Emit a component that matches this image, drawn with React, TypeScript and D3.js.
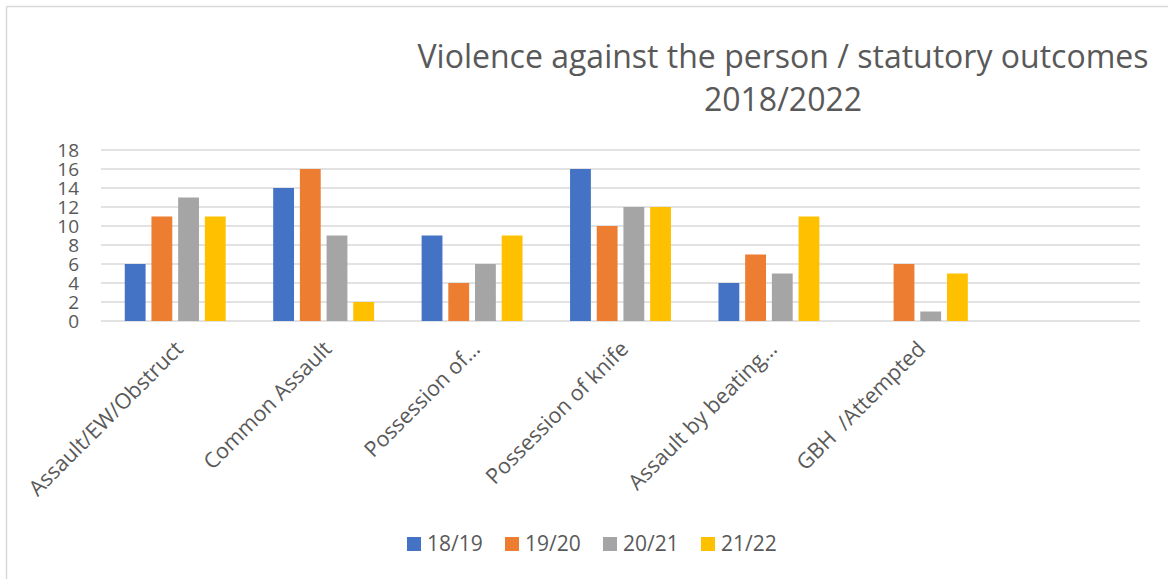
import React from "react";
import * as d3 from "d3";

const categories = [
  "Assault/EW/Obstruct",
  "Common Assault",
  "Possession of…",
  "Possession of knife",
  "Assault by beating…",
  "GBH  /Attempted",
  "",
];
const seriesNames = ["18/19", "19/20", "20/21", "21/22"];
const s1819 = [6, 14, 9, 16, 4, 0, 0];
const s1920 = [11, 16, 4, 10, 7, 6, 0];
const s2021 = [13, 9, 6, 12, 5, 1, 0];
const s2122 = [11, 2, 9, 12, 11, 5, 0];
const yTicks = [0, 2, 4, 6, 8, 10, 12, 14, 16, 18];
const titleLines = ["Violence against the person / statutory outcomes", "2018/2022"];

const seriesValues = [s1819, s1920, s2021, s2122];
const colors = ["#4472C4", "#ED7D31", "#A5A5A5", "#FFC000"];

const W = 1168;
const H = 579;
const plotLeft = 101;
const plotRight = 1140;
const plotTop = 150;
const plotBottom = 321;
const textColor = "#595959";
const gridColor = "#d9d9d9";
const font = "'Open Sans', 'Noto Sans', sans-serif";

export default function App() {
  const x0 = d3.scaleBand<string>().domain(categories.map((_, i) => String(i))).range([plotLeft, plotRight]).paddingInner(0).paddingOuter(0);
  const x1 = d3.scaleBand<string>().domain(seriesNames).range([0, x0.bandwidth()]).paddingInner(0.22).paddingOuter(0.89);
  const y = d3.scaleLinear().domain([0, 18]).range([plotBottom, plotTop]);

  return (
    <svg width={W} height={H} style={{ position: "absolute", left: 0, top: 0, background: "#fff" }} fontFamily={font}>
      <rect x={0} y={0} width={W} height={H} fill="#fff" />
      {/* frame */}
      <line x1={6.5} y1={6.5} x2={W} y2={6.5} stroke={gridColor} strokeWidth={1.5} />
      <line x1={6.5} y1={6.5} x2={6.5} y2={H} stroke={gridColor} strokeWidth={1.5} />
      {/* title */}
      <text x={783} y={68} textAnchor="middle" fontSize={32} fill={textColor}>{titleLines[0]}</text>
      <text x={783} y={111} textAnchor="middle" fontSize={32} fill={textColor}>{titleLines[1]}</text>
      {/* gridlines */}
      {yTicks.map((t) => (
        <line key={t} x1={plotLeft} x2={plotRight} y1={y(t)} y2={y(t)} stroke={gridColor} strokeWidth={1.5} />
      ))}
      {/* y tick labels */}
      {yTicks.map((t) => (
        <text key={"l" + t} x={79} y={y(t)} dy="0.36em" textAnchor="end" fontSize={19} fill={textColor}>{t}</text>
      ))}
      {/* bars */}
      {categories.map((c, ci) => (
        <g key={ci} transform={`translate(${x0(String(ci))},0)`}>
          {seriesNames.map((s, si) => {
            const v = seriesValues[si][ci];
            if (!v) return null;
            return (
              <rect key={s} x={x1(s)} y={y(v)} width={x1.bandwidth()} height={y(0) - y(v)} fill={colors[si]} />
            );
          })}
        </g>
      ))}
      {/* category labels */}
      {categories.map((c, ci) => {
        const cx = (x0(String(ci)) as number) + x0.bandwidth() / 2;
        return (
          <text key={"c" + ci} transform={`translate(${cx + 4},${345}) rotate(-45)`} textAnchor="end" dy="0.35em" fontSize={21.5} fill={textColor} style={{ whiteSpace: "pre" }}>{c}</text>
        );
      })}
      {/* legend */}
      {seriesNames.map((s, si) => (
        <g key={"lg" + s} transform={`translate(${407 + si * 98},537)`}>
          <rect x={0} y={0} width={14} height={14} fill={colors[si]} />
          <text x={20} y={14} fontSize={21} fill={textColor}>{s}</text>
        </g>
      ))}
    </svg>
  );
}
